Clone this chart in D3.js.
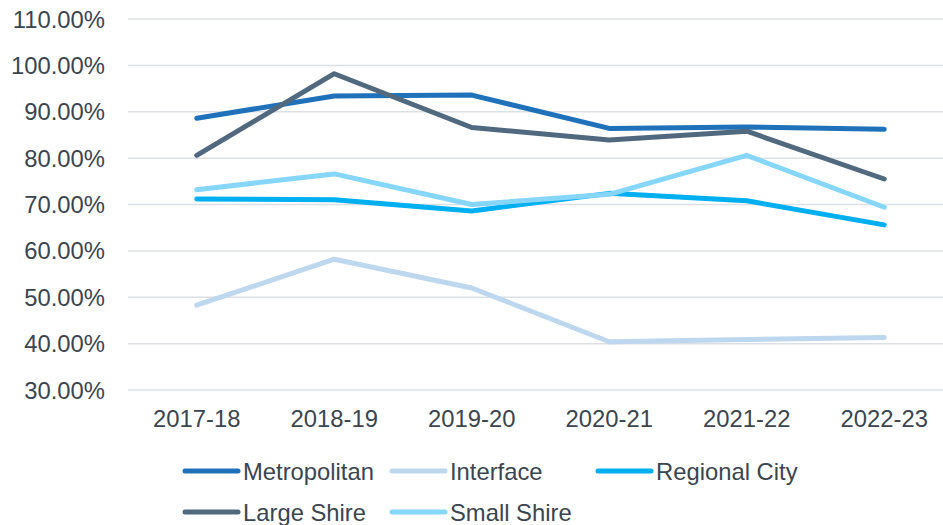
<!DOCTYPE html>
<html>
<head>
<meta charset="utf-8">
<script src="https://cdn.jsdelivr.net/npm/d3@7"></script>
<style>
  body{margin:0;background:#fff;}
  text{font-family:"Liberation Sans",Arial,sans-serif;fill:#3b4550;}
</style>
</head>
<body>
<div id="chart"></div>
<script>
var years = ["2017-18","2018-19","2019-20","2020-21","2021-22","2022-23"];
var yTicks = [30,40,50,60,70,80,90,100,110];
var seriesNames = ["Metropolitan","Interface","Regional City","Large Shire","Small Shire"];
var seriesColors = ["#1f72ba","#bdd7ee","#00aff0","#51697f","#86d6fa"];
var metropolitan = [88.6,93.4,93.6,86.4,86.7,86.2];
var interfaceVals = [48.3,58.2,52.0,40.4,40.9,41.3];
var regionalCity = [71.2,71.0,68.6,72.4,70.8,65.6];
var largeShire = [80.6,98.2,86.6,83.9,85.8,75.5];
var smallShire = [73.2,76.6,70.0,72.2,80.6,69.4];
var seriesVals = [metropolitan,interfaceVals,regionalCity,largeShire,smallShire];

var W = 943, H = 525;
var fs = "23.8px";
var svg = d3.select("#chart").append("svg").attr("width",W).attr("height",H);

var x = d3.scaleBand().domain(years).range([128,953]);
var y = d3.scaleLinear().domain([30,110]).range([390,19]);

// grid
svg.append("g").selectAll("line").data(yTicks).enter().append("line")
  .attr("x1",128).attr("x2",W)
  .attr("y1",function(d){return y(d);}).attr("y2",function(d){return y(d);})
  .style("stroke","#dce0e4").style("stroke-width",1.5);

// y labels
svg.append("g").selectAll("text").data(yTicks).enter().append("text")
  .attr("x",105).attr("y",function(d){return y(d);})
  .attr("dy","0.36em").attr("text-anchor","end")
  .style("font-size",fs)
  .text(function(d){return d.toFixed(2)+"%";});

// x labels
svg.append("g").selectAll("text").data(years).enter().append("text")
  .attr("x",function(d){return x(d)+x.bandwidth()/2;}).attr("y",427)
  .attr("text-anchor","middle").style("font-size",fs)
  .text(String);

var line = d3.line()
  .x(function(d,i){return x(years[i])+x.bandwidth()/2;})
  .y(function(d){return y(d);});

// draw order
var order = [1,2,4,0,3];
order.forEach(function(k){
  svg.append("path").datum(seriesVals[k])
    .attr("d",line)
    .style("fill","none")
    .style("stroke",seriesColors[k])
    .style("stroke-width",5)
    .style("stroke-linejoin","round")
    .style("stroke-linecap","round");
});

// legend
var legendPos = [[185,471],[392,471],[598,471],[185,512],[392,512]];
var leg = svg.append("g").selectAll("g").data(seriesNames).enter().append("g")
  .attr("transform",function(d,i){return "translate("+legendPos[i][0]+","+legendPos[i][1]+")";});
leg.append("line").attr("x1",0).attr("x2",53).attr("y1",0).attr("y2",0)
  .style("stroke",function(d,i){return seriesColors[i];})
  .style("stroke-width",5).style("stroke-linecap","round");
leg.append("text").attr("x",58).attr("y",0).attr("dy","0.36em")
  .style("font-size",fs).text(String);
</script>
</body>
</html>
